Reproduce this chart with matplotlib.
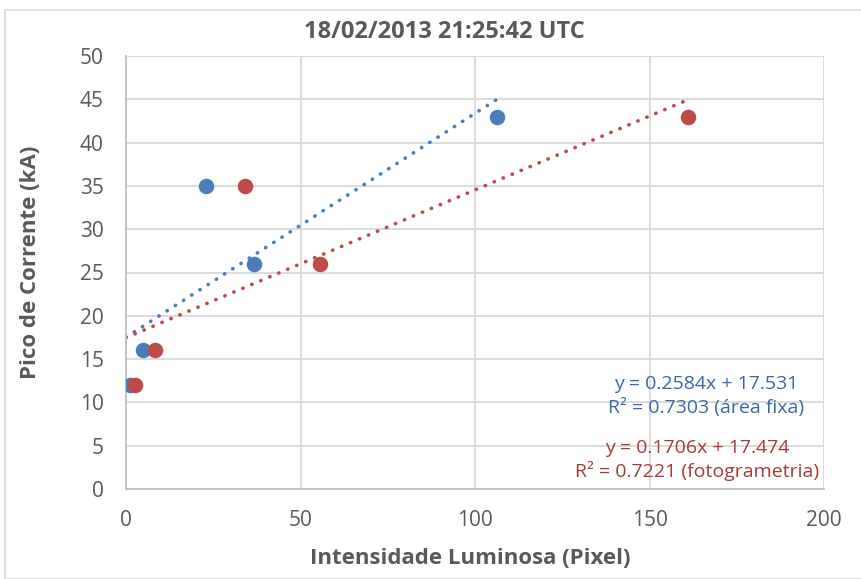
import matplotlib

matplotlib.use("Agg")
import matplotlib.pyplot as plt
import numpy as np
from matplotlib.patches import Rectangle

# Intensidade luminosa (pixel) vs pico de corrente (kA)
x_area_fixa = [1.1, 4.9, 22.9, 36.7, 106.3]
x_fotogrametria = [2.6, 8.3, 34.1, 55.6, 161.0]
pico_corrente = [12, 16, 35, 26, 43]

# coeficientes das linhas de tendência (inclinação, intercepto, R²)
fit_area = (0.2584, 17.531, 0.7303)
fit_foto = (0.1706, 17.474, 0.7221)

BLUE = "#4A7EBB"
RED = "#BE4B48"
BLUE_TXT = "#3C67A6"
RED_TXT = "#A53B38"
INK = "#595959"
GRID = "#D9D9D9"

plt.rcParams["font.family"] = ["Open Sans", "DejaVu Sans"]

W, H = 861, 579
fig = plt.figure(figsize=(W / 100, H / 100), dpi=100)
ax = fig.add_axes([126 / W, 1 - 489 / H, 698 / W, 433 / H])

# borda da área do gráfico
fig.patches.append(Rectangle((5 / W, 0.0), 1.2, 1 - 10 / H,
                             transform=fig.transFigure, fill=False,
                             edgecolor=GRID, linewidth=1.2))

for xs, color, (m, b, _) in ((x_area_fixa, BLUE, fit_area),
                             (x_fotogrametria, RED, fit_foto)):
    xt = np.linspace(0, max(xs), 100)
    ax.plot(xt, m * xt + b, color=color, linewidth=2.6,
            linestyle=(0, (0.1, 2.6)), dash_capstyle="round", zorder=2)
    ax.scatter(xs, pico_corrente, s=125, color=color, zorder=3, linewidths=0)

ax.set_xlim(0, 200)
ax.set_ylim(0, 50)
ax.set_xticks(range(0, 201, 50))
ax.set_yticks(range(0, 51, 5))
ax.grid(True, color=GRID, linewidth=1.3)
ax.set_axisbelow(True)
for side in ("top", "right"):
    ax.spines[side].set_visible(False)
for side in ("left", "bottom"):
    ax.spines[side].set_color("#BFBFBF")
    ax.spines[side].set_linewidth(1.3)
ax.tick_params(length=0, labelsize=15, colors=INK)
ax.tick_params(axis="x", pad=15)
ax.tick_params(axis="y", pad=16)

fig.text(444 / W, 1 - 32 / H, "18/02/2013 21:25:42 UTC", fontsize=17,
         fontweight="bold", color=INK, ha="center", va="center")
fig.text(470 / W, 1 - 558 / H, "Intensidade Luminosa (Pixel)", fontsize=16,
         fontweight="bold", color=INK, ha="center", va="center")
fig.text(31 / W, 1 - 262 / H, "Pico de Corrente (kA)", fontsize=16,
         fontweight="bold", color=INK, ha="center", va="center", rotation=90)

m, b, r2 = fit_area
ax.text(166.2, 10.74, f"y = {m}x + {b}\nR² = {r2} (área fixa)", ha="center",
        va="center", fontsize=14, color=BLUE_TXT, linespacing=1.3)
m, b, r2 = fit_foto
ax.text(163.6, 3.35, f"y = {m}x + {b}\nR² = {r2} (fotogrametria)", ha="center",
        va="center", fontsize=14, color=RED_TXT, linespacing=1.3)

fig.savefig("out.png", dpi=100, facecolor="white")
